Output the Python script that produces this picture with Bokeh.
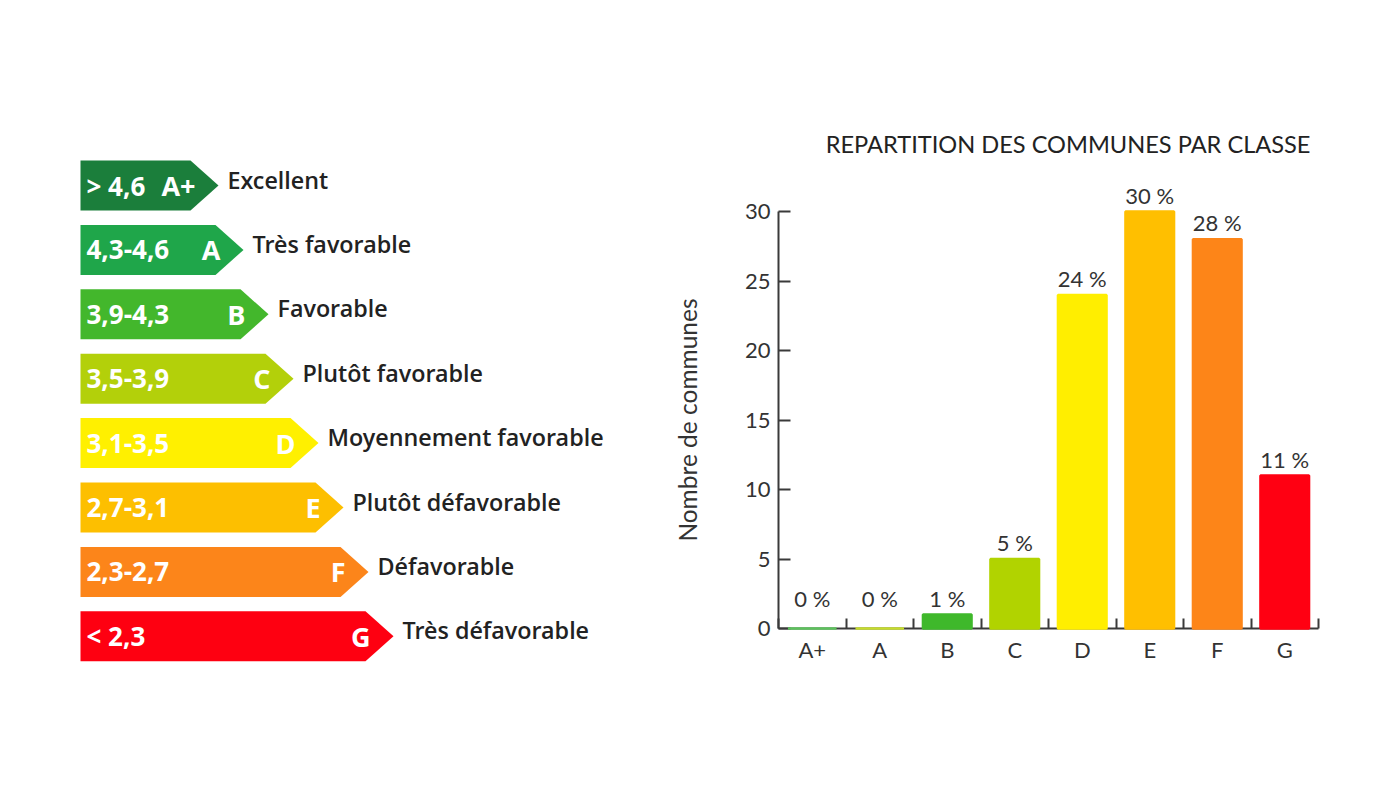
import numpy as np
from bokeh.plotting import figure
from bokeh.models import Range1d, FixedTicker, LinearAxis
from bokeh.core.properties import value
from bokeh.embed import file_html
from bokeh.resources import INLINE

# ---------------- data ----------------
classes = ["A+", "A", "B", "C", "D", "E", "F", "G"]
score_ranges = ["> 4,6", "4,3-4,6", "3,9-4,3", "3,5-3,9", "3,1-3,5", "2,7-3,1", "2,3-2,7", "< 2,3"]
class_labels = ["Excellent", "Très favorable", "Favorable", "Plutôt favorable",
                "Moyennement favorable", "Plutôt défavorable", "Défavorable", "Très défavorable"]
arrow_colors = ["#1b7e3b", "#1fa64a", "#43b72c", "#b3d00a", "#fff000", "#fdbf00", "#fc851a", "#fe0011"]
bar_colors = ["#5cc25c", "#c6dc2c", "#3fb82b", "#b1d300", "#ffee00", "#ffbf00", "#fd8518", "#ff0012"]
counts = [0, 0, 1, 5, 24, 30, 28, 11]
percent_labels = ["0 %", "0 %", "1 %", "5 %", "24 %", "30 %", "28 %", "11 %"]
y_ticks = [0, 5, 10, 15, 20, 25, 30]
chart_title = "REPARTITION DES COMMUNES PAR CLASSE"
y_axis_label = "Nombre de communes"

# ---------------- layout (page pixels) ----------------
W, H = 1384, 784
OX, OY = 0, 0                      # page offset of the figure as photographed
AX_LEFT, AX_RIGHT = 778, 1318      # bar chart x extent on the page
AX_ZERO, AX_TOP = 628, 211         # page y of value 0 and value 30
n = len(classes)
ppx = (AX_RIGHT - AX_LEFT) / n
ppy = (AX_ZERO - AX_TOP) / 30.0

x_start = -0.5 - (AX_LEFT - OX) / ppx
x_end = n - 0.5 + (OX + W - AX_RIGHT) / ppx
y_start = -(OY + H - AX_ZERO) / ppy
y_end = (AX_ZERO - OY) / ppy

p = figure(width=W, height=H, x_range=Range1d(x_start, x_end), y_range=Range1d(y_start, y_end),
           output_backend="svg", toolbar_location=None, min_border=0,
           x_axis_type=None, y_axis_type=None)
p.grid.visible = False
p.outline_line_color = None
p.extra_x_ranges = {"px": Range1d(OX, OX + W)}
p.extra_y_ranges = {"py": Range1d(OY + H, OY)}

# ---------------- left: energy-label legend ----------------
row_top0, row_step, row_h = 160, 64.4, 50
x0 = 80
tops = [row_top0 + i * row_step for i in range(n)]
mids = [t + row_h / 2 for t in tops]
ends = [190 + 25 * i for i in range(n)]
tips = [e + 28 for e in ends]
xs = [[x0, e, tp, e, x0] for e, tp in zip(ends, tips)]
ys = [[t, t, t + row_h / 2, t + row_h, t + row_h] for t in tops]
p.patches(xs, ys, fill_color=arrow_colors, line_color=None, x_range_name="px", y_range_name="py")

p.text(x=[x0 + 6] * n, y=mids, text=score_ranges, text_color="white",
       text_font=value("Open Sans"), text_font_style="bold", text_font_size="26px",
       text_baseline="middle", text_align="left", x_range_name="px", y_range_name="py")
p.text(x=[e + 5 for e in ends], y=mids, text=classes, text_color="white",
       text_font=value("Open Sans"), text_font_style="bold", text_font_size="27px",
       text_baseline="middle", text_align="right", x_range_name="px", y_range_name="py")
p.text(x=[tp + 9 for tp in tips], y=[m - 6 for m in mids], text=class_labels, text_color="#222222",
       text_font=value("Open Sans SemiBold"), text_font_style="normal", text_font_size="23.3px",
       text_baseline="middle", text_align="left", x_range_name="px", y_range_name="py")

# ---------------- right: bar chart ----------------
FONT = "Lato"
AXC = "#3a3a3a"
TXC = "#333333"
idx = list(range(n))
bars = p.vbar(x=idx, top=counts, bottom=0, width=0.72, fill_color=bar_colors,
              line_color=bar_colors, line_width=2.5)
bars.level = "overlay"

p.text(x=idx, y=list(np.maximum(counts, 1)), text=percent_labels, text_align="center",
       text_baseline="bottom", y_offset=-3, text_color=TXC,
       text_font=value(FONT), text_font_size="22px")

xaxis = LinearAxis(ticker=FixedTicker(ticks=idx, minor_ticks=[i - 0.5 for i in range(n + 1)]),
                   major_label_overrides={i: c for i, c in enumerate(classes)},
                   bounds=(-0.5, n - 0.5), fixed_location=0,
                   major_tick_in=0, major_tick_out=0, minor_tick_in=10, minor_tick_out=0,
                   minor_tick_line_color=AXC, minor_tick_line_width=2,
                   axis_line_color=AXC, axis_line_width=2,
                   major_label_text_font=FONT, major_label_text_font_size="22px",
                   major_label_text_color=TXC, major_label_standoff=7)
p.add_layout(xaxis, "below")

yaxis = LinearAxis(ticker=FixedTicker(ticks=y_ticks, minor_ticks=[]), bounds=(0, 30),
                   fixed_location=-0.5,
                   major_tick_in=12, major_tick_out=0, minor_tick_in=0, minor_tick_out=0,
                   major_tick_line_color=AXC, major_tick_line_width=2,
                   axis_line_color=AXC, axis_line_width=2,
                   major_label_text_font=FONT, major_label_text_font_size="22px",
                   major_label_text_color=TXC, major_label_standoff=8,
                   axis_label=y_axis_label, axis_label_text_font=FONT,
                   axis_label_text_font_size="24.5px", axis_label_text_font_style="normal",
                   axis_label_text_color=TXC, axis_label_standoff=40)
p.add_layout(yaxis, "left")

# chart title (right-aligned above the bars)
p.text(x=[1310], y=[143], text=[chart_title], text_align="right", text_baseline="middle",
       text_color="#222222", text_font=value(FONT), text_font_size="23.6px",
       x_range_name="px", y_range_name="py")

open("out.html", "w").write(file_html(p, INLINE))
